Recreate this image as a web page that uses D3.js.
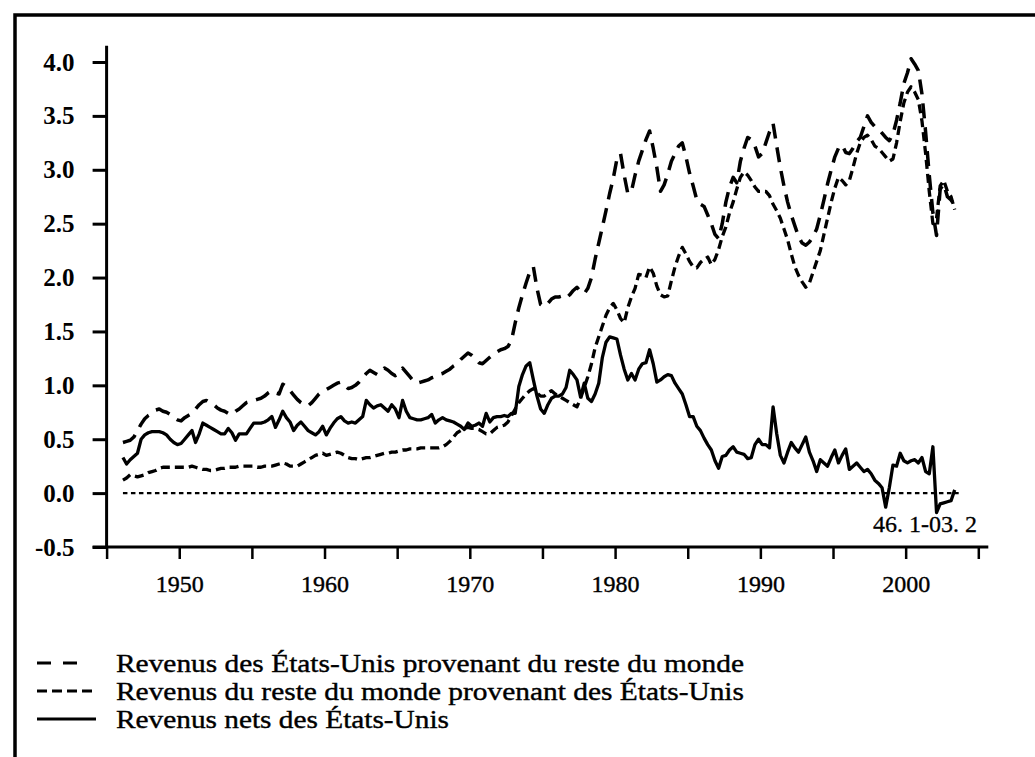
<!DOCTYPE html>
<html><head><meta charset="utf-8">
<script src="https://cdn.jsdelivr.net/npm/d3@7"></script>
<style>body{margin:0;background:#fff}svg{display:block}</style>
</head><body><svg id="c" width="1035" height="757"></svg>
<script>
// ---- data (quarterly, 1946 Q1 – 2003 Q2) ----
const startYear = 1946;
const yTicks = [-0.5, 0, 0.5, 1.0, 1.5, 2.0, 2.5, 3.0, 3.5, 4.0];
const xTicks = [1945, 1950, 1955, 1960, 1965, 1970, 1975, 1980, 1985, 1990, 1995, 2000, 2005];
const xLabels = [1950, 1960, 1970, 1980, 1990, 2000];
const seriesNames = [
  "Revenus des États-Unis provenant du reste du monde",
  "Revenus du reste du monde provenant des États-Unis",
  "Revenus nets des États-Unis"
];
const periodNote = "46. 1-03. 2";

const usReceipts = [
0.47,0.48,0.49,0.52, 0.58,0.64,0.69,0.72, 0.74,0.77,0.78,0.76, 0.75,0.73,0.70,0.68,
0.67,0.70,0.72,0.74, 0.78,0.82,0.85,0.86, 0.84,0.82,0.79,0.77, 0.76,0.74,0.73,0.76,
0.78,0.81,0.84,0.85, 0.86,0.87,0.88,0.90, 0.93,0.95,0.93,0.92, 1.01,0.99,0.95,0.91,
0.87,0.84,0.82,0.81, 0.84,0.88,0.92,0.94, 0.96,0.98,1.00,1.02, 1.03,1.00,0.97,0.98,
1.00,1.03,1.07,1.11, 1.14,1.12,1.10,1.13, 1.16,1.14,1.11,1.09, 1.12,1.16,1.12,1.08,
1.04,1.02,1.03,1.04, 1.05,1.07,1.08,1.10, 1.11,1.13,1.15,1.18, 1.20,1.24,1.27,1.30,
1.28,1.25,1.21,1.20, 1.23,1.26,1.29,1.31, 1.33,1.34,1.36,1.42, 1.58,1.72,1.84,1.95,
2.05,2.10,1.90,1.75, 1.73,1.76,1.80,1.82, 1.82,1.83,1.81,1.84, 1.88,1.91,1.87,1.85,
1.90,2.00,2.17,2.32, 2.47,2.62,2.78,2.92, 3.10,3.15,2.95,2.78, 2.80,2.95,3.08,3.18,
3.28,3.36,3.20,3.02, 2.80,2.86,2.96,3.08, 3.15,3.22,3.25,3.12, 2.97,2.85,2.72,2.68,
2.66,2.58,2.50,2.40, 2.36,2.50,2.70,2.84, 2.93,2.88,3.08,3.20, 3.30,3.28,3.22,3.12,
3.15,3.25,3.35,3.43, 3.22,3.02,2.85,2.70, 2.58,2.48,2.38,2.32, 2.30,2.33,2.38,2.45,
2.58,2.72,2.87,3.00, 3.12,3.20,3.23,3.16, 3.15,3.20,3.26,3.30, 3.40,3.50,3.44,3.40,
3.38,3.34,3.30,3.27, 3.33,3.46,3.62,3.80, 3.90,4.03,3.98,3.92, 3.70,3.35,2.95,2.60,
2.39,2.82,2.87,2.75, 2.72,2.67
];

const rowPayments = [
0.12,0.14,0.17,0.16, 0.15,0.16,0.17,0.19, 0.20,0.21,0.23,0.24, 0.24,0.24,0.24,0.24,
0.24,0.24,0.24,0.25, 0.24,0.23,0.22,0.22, 0.21,0.21,0.22,0.23, 0.23,0.24,0.24,0.24,
0.25,0.25,0.25,0.25, 0.25,0.24,0.24,0.25, 0.25,0.25,0.26,0.27, 0.28,0.27,0.25,0.25,
0.25,0.27,0.29,0.31, 0.33,0.35,0.36,0.37, 0.35,0.36,0.37,0.38, 0.37,0.35,0.33,0.32,
0.32,0.31,0.32,0.33, 0.33,0.34,0.35,0.36, 0.37,0.37,0.38,0.38, 0.39,0.40,0.40,0.41,
0.41,0.41,0.42,0.42, 0.42,0.42,0.42,0.42, 0.43,0.45,0.48,0.52, 0.56,0.58,0.60,0.61,
0.60,0.60,0.59,0.57, 0.55,0.55,0.58,0.61, 0.62,0.63,0.66,0.72, 0.78,0.84,0.88,0.92,
0.95,0.97,0.93,0.90, 0.90,0.93,0.95,0.92, 0.90,0.88,0.86,0.84, 0.82,0.80,0.88,0.98,
1.08,1.20,1.35,1.45, 1.55,1.65,1.72,1.76, 1.70,1.62,1.58,1.72, 1.82,1.90,2.03,2.02,
2.00,2.10,2.04,1.92, 1.84,1.82,1.83,1.97, 2.10,2.20,2.28,2.22, 2.15,2.10,2.09,2.14,
2.17,2.19,2.12,2.17, 2.26,2.38,2.47,2.60, 2.70,2.82,2.93,2.98, 2.95,2.90,2.84,2.80,
2.80,2.80,2.76,2.68, 2.62,2.55,2.45,2.35, 2.22,2.10,2.02,1.96, 1.91,1.95,2.05,2.15,
2.25,2.40,2.55,2.70, 2.83,2.93,2.90,2.86, 2.90,3.02,3.15,3.25, 3.30,3.32,3.28,3.22,
3.20,3.16,3.12,3.08, 3.10,3.25,3.45,3.62, 3.72,3.77,3.72,3.65, 3.45,3.15,2.80,2.50,
2.55,2.85,2.90,2.80, 2.75,2.63
];

const netIncome = [
0.33,0.27,0.31,0.34, 0.37,0.50,0.54,0.56, 0.57,0.57,0.57,0.56, 0.54,0.50,0.47,0.45,
0.46,0.50,0.54,0.58, 0.47,0.55,0.65,0.63, 0.61,0.59,0.57,0.55, 0.55,0.60,0.56,0.49,
0.55,0.55,0.55,0.60, 0.65,0.65,0.65,0.66, 0.68,0.71,0.61,0.68, 0.76,0.70,0.66,0.58,
0.63,0.66,0.62,0.58, 0.56,0.54,0.57,0.62, 0.54,0.60,0.65,0.69, 0.71,0.67,0.65,0.66,
0.65,0.68,0.71,0.86, 0.82,0.79,0.81,0.82, 0.79,0.76,0.82,0.78, 0.70,0.86,0.76,0.70,
0.69,0.68,0.68,0.69, 0.70,0.73,0.65,0.68, 0.70,0.68,0.67,0.66, 0.64,0.62,0.59,0.65,
0.62,0.63,0.65,0.62, 0.74,0.66,0.70,0.71, 0.71,0.72,0.71,0.74, 0.74,0.99,1.10,1.18,
1.21,1.05,0.90,0.78, 0.74,0.82,0.88,0.90, 0.90,0.92,0.98,1.14, 1.10,1.05,0.89,1.02,
0.88,0.85,0.92,1.02, 1.26,1.40,1.45,1.44, 1.43,1.28,1.15,1.05, 1.11,1.05,1.15,1.20,
1.21,1.33,1.20,1.03, 1.05,1.08,1.10,1.09, 1.02,0.97,0.92,0.82, 0.71,0.71,0.62,0.58,
0.51,0.45,0.40,0.30, 0.23,0.34,0.35,0.40, 0.43,0.38,0.37,0.36, 0.32,0.33,0.45,0.50,
0.45,0.45,0.42,0.80, 0.55,0.35,0.28,0.38, 0.47,0.42,0.38,0.45, 0.52,0.38,0.30,0.20,
0.31,0.28,0.25,0.33, 0.40,0.28,0.35,0.41, 0.22,0.25,0.28,0.24, 0.20,0.22,0.18,0.12,
0.09,0.05,-0.13,0.05, 0.26,0.25,0.37,0.30, 0.28,0.30,0.31,0.28, 0.33,0.20,0.18,0.43,
-0.18,-0.10,-0.09,-0.08, -0.07,0.03
];

// ---- drawing ----
const svg = d3.select("#c");
svg.append("rect").attr("width",1035).attr("height",757).attr("fill","#fff");
const FONT = "'Liberation Serif','Times New Roman',serif";

// frame (top and left)
svg.append("path").attr("d","M15,757 V15 H1035").attr("fill","none")
   .attr("stroke","#000").attr("stroke-width",3.5);

const x = d3.scaleLinear().domain([1945, 2005]).range([106.6, 978.3]);
const y = d3.scaleLinear().domain([-0.5, 4.0]).range([547, 62]);
const t = i => startYear + (i + 0.5) / 4;

// y axis
const yAxis = d3.axisLeft(y).tickValues(yTicks).tickSize(14).tickPadding(18)
  .tickFormat(v => v.toFixed(1));
const gy = svg.append("g").attr("transform", `translate(${x(1945)},0)`).call(yAxis);
gy.select(".domain").remove();
gy.selectAll(".tick line").attr("stroke","#000").attr("stroke-width",3);
gy.selectAll(".tick text").attr("font-family",FONT).attr("font-size",25)
  .attr("font-weight","bold").attr("fill","#000");
svg.append("line").attr("x1",x(1945)).attr("x2",x(1945)).attr("y1",y(4.15)).attr("y2",y(-0.5))
  .attr("stroke","#000").attr("stroke-width",3);

// x axis
const xAxis = d3.axisBottom(x).tickValues(xTicks).tickSize(12).tickPadding(16)
  .tickFormat(v => xLabels.includes(v) ? String(v) : "");
const gx = svg.append("g").attr("transform", `translate(0,${y(-0.5)})`).call(xAxis);
gx.select(".domain").remove();
gx.selectAll(".tick line").attr("stroke","#000").attr("stroke-width",2.5);
gx.selectAll(".tick text").attr("font-family",FONT).attr("font-size",24).attr("fill","#000")
  .attr("stroke","#000").attr("stroke-width",0.4);
svg.append("line").attr("x1",x(1945)-14).attr("x2",x(2005)+10).attr("y1",y(-0.5)).attr("y2",y(-0.5))
  .attr("stroke","#000").attr("stroke-width",3);

// zero reference (dotted)
svg.append("line").attr("x1",x(t(0))).attr("x2",x(t(usReceipts.length-1))+4)
  .attr("y1",y(0)).attr("y2",y(0)).attr("stroke","#000").attr("stroke-width",2.4)
  .attr("stroke-dasharray","4.5,3.5");

const line = d3.line().x((d,i) => x(t(i))).y(d => y(d));
const styles = [
  {data: usReceipts, dash: "15,9", w: 3.5},
  {data: rowPayments, dash: "9,5", w: 3.3},
  {data: netIncome, dash: null, w: 3.3}
];
styles.forEach(s => {
  const p = svg.append("path").datum(s.data).attr("d", line).attr("fill","none")
    .attr("stroke","#000").attr("stroke-width", s.w).attr("stroke-linejoin","round");
  if (s.dash) p.attr("stroke-dasharray", s.dash);
});

// period note
svg.append("text").attr("x", 977).attr("y", 532).attr("text-anchor","end")
  .attr("font-family",FONT).attr("font-size",24).attr("fill","#000")
  .attr("stroke","#000").attr("stroke-width",0.3).text(periodNote);

// legend
const legY = [663, 691, 719];
const legDash = ["14,12", "10,5", null];
const legEnd = [80, 95, 96];
const legWidth = [628, 628, 333];
seriesNames.forEach((name, i) => {
  const l = svg.append("line").attr("x1",37).attr("x2",legEnd[i]).attr("y1",legY[i]).attr("y2",legY[i])
    .attr("stroke","#000").attr("stroke-width",3.2);
  if (legDash[i]) l.attr("stroke-dasharray", legDash[i]);
  svg.append("text").attr("x",116).attr("y",legY[i]).attr("dy","0.35em")
    .attr("font-family",FONT).attr("font-size",26).attr("fill","#000")
    .attr("stroke","#000").attr("stroke-width",0.4)
    .attr("textLength", legWidth[i]).attr("lengthAdjust","spacingAndGlyphs").text(name);
});
</script></body></html>
